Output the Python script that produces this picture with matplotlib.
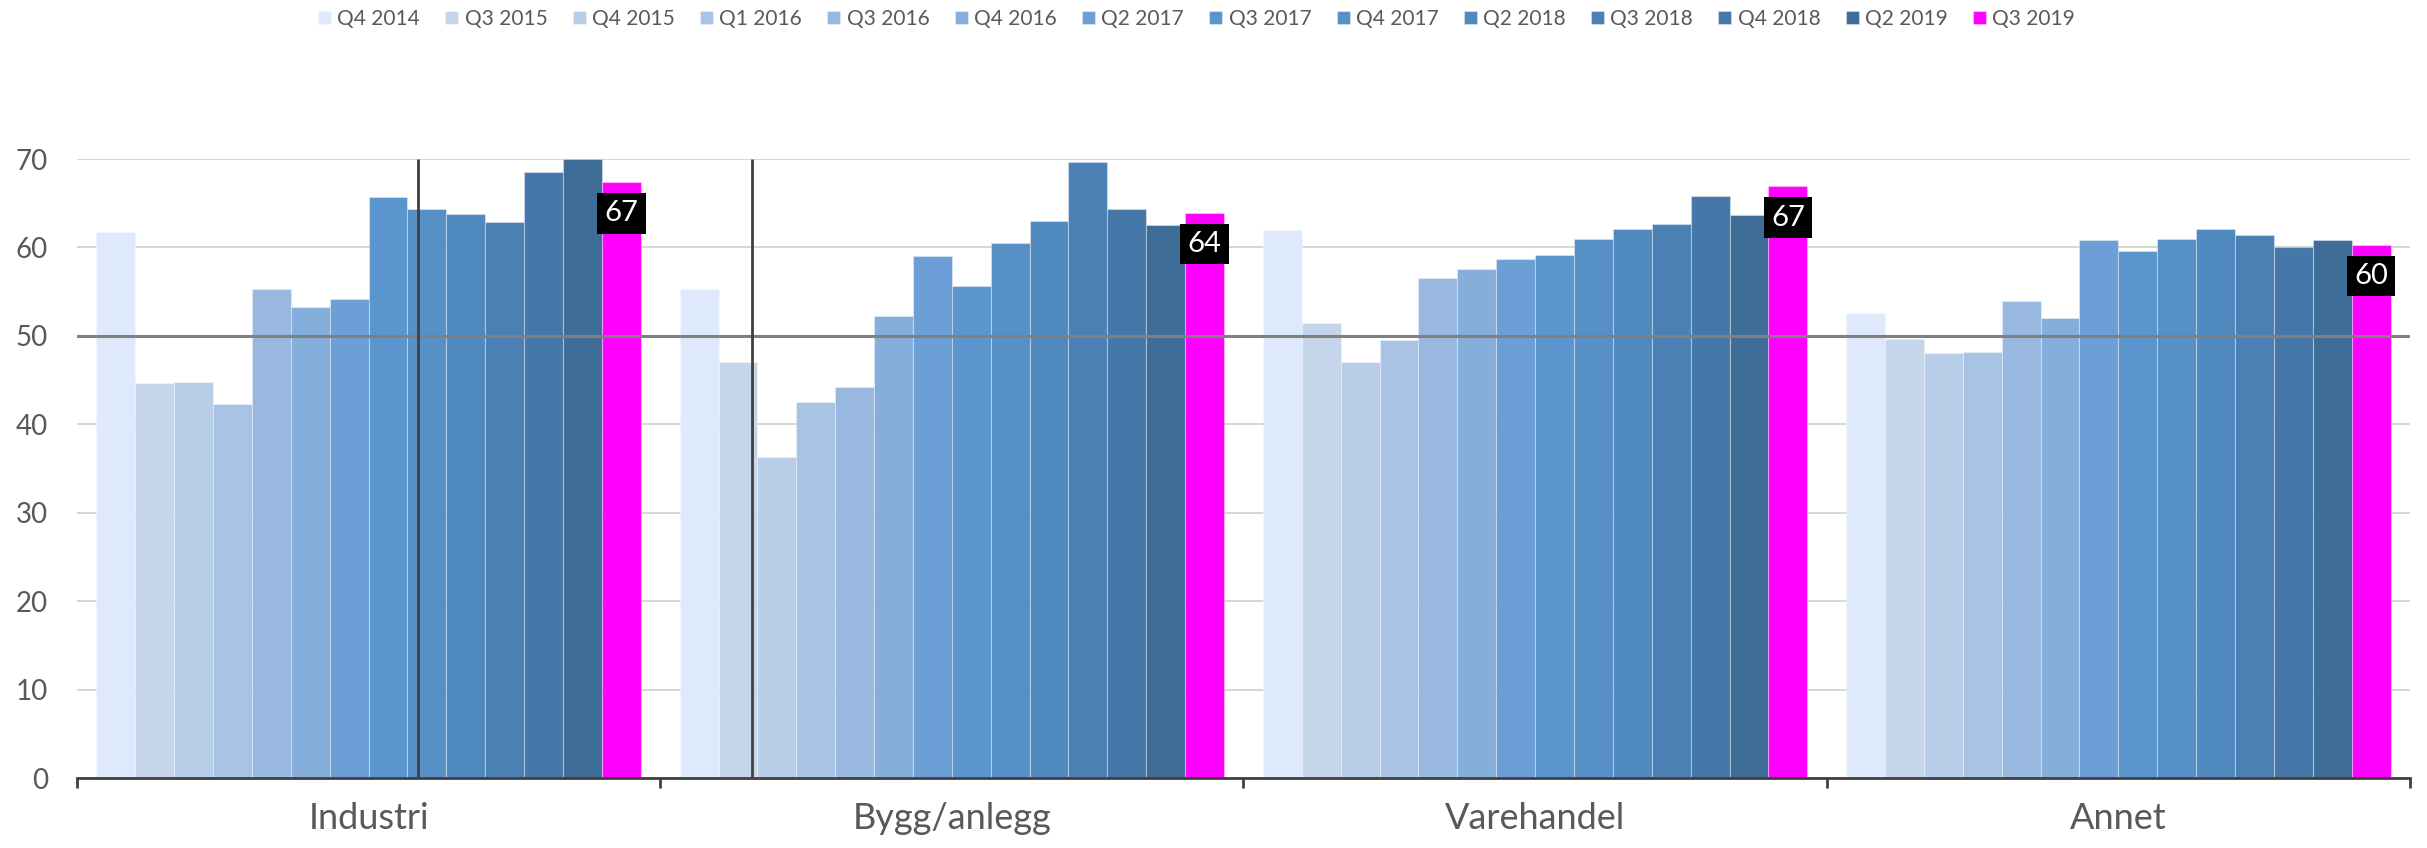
import matplotlib.pyplot as plt
import numpy as np

plt.rcParams['font.family'] = ['Lato', 'DejaVu Sans']

categories = ["Industri", "Bygg/anlegg", "Varehandel", "Annet"]
quarters = ["Q4 2014", "Q3 2015", "Q4 2015", "Q1 2016", "Q3 2016", "Q4 2016", "Q2 2017",
            "Q3 2017", "Q4 2017", "Q2 2018", "Q3 2018", "Q4 2018", "Q2 2019", "Q3 2019"]

industri = [61.8, 44.7, 44.8, 42.3, 55.3, 53.3, 54.2, 65.7, 64.4, 63.8, 62.9, 68.5, 70.0, 67.4]
bygg = [55.3, 47.0, 36.3, 42.5, 44.2, 52.2, 59.0, 55.6, 60.5, 63.0, 69.7, 64.3, 62.5, 63.9]
varehandel = [62.0, 51.5, 47.0, 49.5, 56.5, 57.6, 58.7, 59.2, 60.9, 62.1, 62.6, 65.8, 63.7, 66.9]
annet = [52.6, 49.6, 48.1, 48.2, 53.9, 52.0, 60.8, 59.6, 61.0, 62.1, 61.4, 60.1, 60.8, 60.3]

colors = ["#deeafb", "#c5d5ea", "#b8cde8", "#a9c3e5", "#98b8e0", "#86aedb", "#6b9fd5",
          "#5a96cd", "#5690c6", "#5089be", "#4a80b4", "#4577a8", "#3e6d98", "#ff00ff"]

# vertical marker lines (x in category units)
break_x = [0.085, 0.658]

values = np.array([industri, bygg, varehandel, annet])

fig = plt.figure(figsize=(24.27, 8.48), dpi=100)
ax = fig.add_axes([0.0317, 0.0825, 0.9613, 0.73])

x = np.arange(len(categories))
n = len(quarters)
width = 1 / (n + 1)

for i, q in enumerate(quarters):
    offset = (i - (n - 1) / 2) * width
    ax.bar(x + offset, values[:, i], width, color=colors[i], label=q,
           edgecolor=(1, 1, 1, 0.35), linewidth=0.8, zorder=2)

# labels on latest quarter
last_offset = ((n - 1) - (n - 1) / 2) * width
for xi, v in zip(x + last_offset, values[:, -1]):
    ax.annotate(f"{v:.0f}", (xi, v), xytext=(0, -22.5), textcoords='offset points',
                ha='center', va='center', color='white', fontsize=21,
                bbox=dict(boxstyle='square,pad=0.25', fc='black', ec='none'), zorder=6)

ax.axhline(50, color='#808080', lw=2.2, zorder=4)
ax.vlines(break_x, 0, 70, color='#404040', lw=2, zorder=5)

ax.set_xlim(-0.5, len(categories) - 0.5)
ax.set_ylim(0, 70)
ax.set_yticks(range(0, 71, 10))
ax.yaxis.grid(True, color='#cbdac6', lw=1.3)
ax.set_axisbelow(True)

for s in ['top', 'right', 'left']:
    ax.spines[s].set_visible(False)
ax.spines['bottom'].set_color('#404040')
ax.spines['bottom'].set_linewidth(2)

ax.set_xticks(x, categories)
ax.set_xticks(np.arange(-0.5, len(categories), 1), minor=True)
ax.tick_params(axis='x', which='major', length=0, pad=17, labelsize=26, labelcolor='#595959')
ax.tick_params(axis='x', which='minor', length=7, width=2, color='#404040', direction='out')
ax.tick_params(axis='y', length=0, pad=21, labelsize=20, labelcolor='#595959')

fig.legend(loc='center', bbox_to_anchor=(0.493, 0.978), ncol=n, frameon=False, fontsize=15,
           handlelength=0.62, handleheight=0.62, handletextpad=0.3, columnspacing=1.22,
           labelcolor='#595959')

plt.savefig("out.png", dpi=100)
